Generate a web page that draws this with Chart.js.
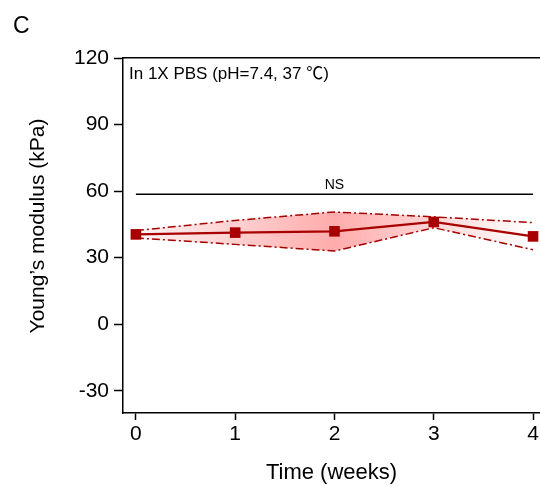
<!DOCTYPE html>
<html>
<head>
<meta charset="UTF-8">
<title>Young's modulus</title>
<script src="https://cdn.jsdelivr.net/npm/chart.js"></script>
<style>
  html, body { margin: 0; padding: 0; background: #fff; }
  #wrap { width: 540px; height: 486px; position: relative; }
</style>
</head>
<body>
<div id="wrap"><canvas id="grafico"></canvas></div>
<script>
// data
const weeks = [0, 1, 2, 3, 4];
const modulusMean = [40.5, 41.3, 41.9, 46.1, 39.6];
const modulusUpper = [42.2, 46.8, 50.6, 48.4, 45.8];
const modulusLower = [38.9, 36.0, 33.0, 43.5, 33.6];
const nsLevel = 58.6;
const nsSpan = [0, 4];
const yTicks = [-30, 0, 30, 60, 90, 120];
const xTicks = [0, 1, 2, 3, 4];

const FONT = "'Liberation Sans', Arial, 'Noto Sans CJK SC', sans-serif";
const RED = '#a80000';

function pts(ys) {
  return weeks.map((w, i) => ({ x: w, y: ys[i] }));
}

// pink band, strongest around week 2
function bandFill(ctx) {
  const chart = ctx.chart;
  const xs = chart.scales.x;
  if (!xs || !chart.chartArea) return 'rgba(255,130,130,0.3)';
  const x0 = xs.getPixelForValue(0), x4 = xs.getPixelForValue(4);
  const g = chart.ctx.createLinearGradient(x0, 0, x4, 0);
  g.addColorStop(0, 'rgba(255,120,120,0.08)');
  g.addColorStop(0.5, 'rgba(255,120,120,0.62)');
  g.addColorStop(0.75, 'rgba(255,120,120,0.3)');
  g.addColorStop(1, 'rgba(255,120,120,0.0)');
  return g;
}

// texts: panel letter, condition, NS, y title
const textos = {
  id: 'textos',
  afterDraw(chart) {
    const c = chart.ctx;
    const xs = chart.scales.x, ys = chart.scales.y;
    c.save();
    c.fillStyle = '#000';
    c.textBaseline = 'middle';
    c.textAlign = 'left';
    c.font = '23px ' + FONT;
    c.fillText('C', 13, 27);
    c.font = '17px ' + FONT;
    c.fillText('In 1X PBS (pH=7.4, 37 \u2103)', chart.chartArea.left + 6, 74);
    c.textAlign = 'center';
    c.font = '14px ' + FONT;
    c.fillText('NS', xs.getPixelForValue(2), ys.getPixelForValue(nsLevel) - 9);
    // y axis title
    c.translate(38, 226);
    c.rotate(-Math.PI / 2);
    c.font = '21px ' + FONT;
    c.fillText('Young\u2019s modulus (kPa)', 0, 0);
    c.restore();
  }
};

const dashDot = [8, 3, 2, 3];

new Chart(document.getElementById('grafico'), {
  type: 'line',
  data: {
    datasets: [
      {
        label: 'upper',
        data: pts(modulusUpper),
        borderColor: RED,
        borderWidth: 1.5,
        borderDash: dashDot,
        pointRadius: 0,
        fill: '+1',
        backgroundColor: bandFill,
        tension: 0
      },
      {
        label: 'lower',
        data: pts(modulusLower),
        borderColor: RED,
        borderWidth: 1.5,
        borderDash: dashDot,
        pointRadius: 0,
        fill: false,
        tension: 0
      },
      {
        label: 'NS',
        data: nsSpan.map(w => ({ x: w, y: nsLevel })),
        borderColor: '#000',
        borderWidth: 1.5,
        pointRadius: 0,
        fill: false
      },
      {
        label: 'mean',
        data: pts(modulusMean),
        borderColor: RED,
        borderWidth: 2.2,
        pointStyle: 'rect',
        pointRadius: 7.5,
        pointHoverRadius: 7.5,
        pointBackgroundColor: RED,
        pointBorderColor: RED,
        pointBorderWidth: 0,
        fill: false,
        tension: 0
      }
    ]
  },
  options: {
    responsive: true,
    maintainAspectRatio: false,
    animation: false,
    layout: { padding: 0, autoPadding: false },
    plugins: {
      legend: { display: false },
      tooltip: { enabled: false },
      filler: { drawTime: 'beforeDatasetsDraw' }
    },
    scales: {
      x: {
        type: 'linear',
        min: -0.13,
        max: 4.07,
        afterBuildTicks: s => { s.ticks = xTicks.map(v => ({ value: v })); },
        afterFit: s => { s.height = 73; s.paddingRight = 0; s.paddingLeft = 0; },
        grid: { display: true, drawOnChartArea: false, drawTicks: true, tickLength: 7, tickColor: '#000', tickWidth: 1.5 },
        border: { display: true, color: '#000', width: 1.5 },
        ticks: { color: '#000', font: { family: FONT, size: 21 }, padding: 2, maxRotation: 0 },
        title: {
          display: true,
          text: 'Time (weeks)',
          color: '#000',
          font: { family: FONT, size: 22 },
          padding: { top: 0, bottom: 0 }
        }
      },
      xTop: {
        type: 'linear',
        position: 'top',
        min: -0.13,
        max: 4.07,
        afterFit: s => { s.height = 58; s.paddingRight = 0; s.paddingLeft = 0; },
        grid: { display: false, drawTicks: false },
        border: { display: true, color: '#000', width: 1.5 },
        ticks: { display: false }
      },
      y: {
        min: -40,
        max: 120,
        afterBuildTicks: s => { s.ticks = yTicks.map(v => ({ value: v })); },
        afterFit: s => { s.width = 123; },
        grid: { display: true, drawOnChartArea: false, drawTicks: true, tickLength: 9, tickColor: '#000', tickWidth: 1.5 },
        border: { display: true, color: '#000', width: 1.5 },
        ticks: { color: '#000', font: { family: FONT, size: 21 }, padding: 5 },
        title: { display: false }
      }
    }
  },
  plugins: [textos]
});
</script>
</body>
</html>
